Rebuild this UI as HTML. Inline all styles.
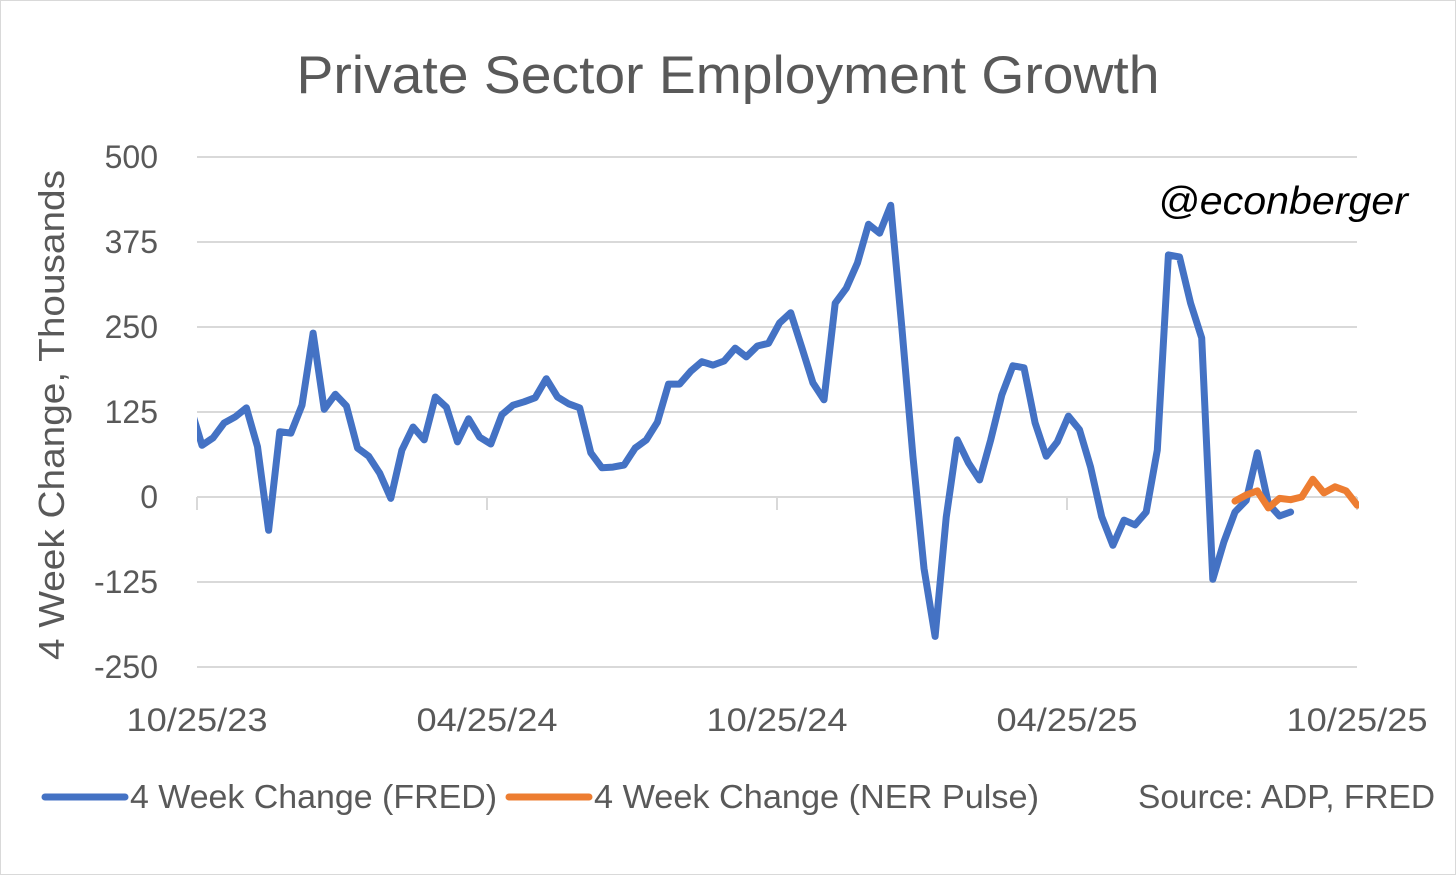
<!DOCTYPE html>
<html><head><meta charset="utf-8"><style>
html,body{margin:0;padding:0;background:#fff;}
svg{display:block;font-family:"Liberation Sans",sans-serif;}
</style></head><body>
<svg id="chart" width="1456" height="875" viewBox="0 0 1456 875" xmlns="http://www.w3.org/2000/svg">
<rect x="0.5" y="0.5" width="1455" height="874" fill="#fff" stroke="#d9d9d9"/>
<text x="728" y="93" text-anchor="middle" font-size="53" fill="#595959" textLength="863" lengthAdjust="spacingAndGlyphs">Private Sector Employment Growth</text>
<text x="1408" y="214" text-anchor="end" font-size="39" font-style="italic" fill="#000" textLength="250" lengthAdjust="spacingAndGlyphs">@econberger</text>
<text transform="translate(64,415) rotate(-90)" text-anchor="middle" font-size="36" fill="#595959" textLength="490" lengthAdjust="spacingAndGlyphs">4 Week Change, Thousands</text>
<g id="grid"></g><g id="yticks"></g><g id="xticks"></g>
<defs><clipPath id="plotclip"><rect x="197" y="100" width="1162" height="620"/></clipPath></defs>
<g id="series" clip-path="url(#plotclip)"></g>
<g>
<line x1="45" y1="797" x2="125" y2="797" stroke="#4472c4" stroke-width="7" stroke-linecap="round"/>
<text x="130" y="808" font-size="33" fill="#595959" textLength="367" lengthAdjust="spacingAndGlyphs">4 Week Change (FRED)</text>
<line x1="509" y1="797" x2="589" y2="797" stroke="#ed7d31" stroke-width="7" stroke-linecap="round"/>
<text x="594" y="808" font-size="33" fill="#595959" textLength="445" lengthAdjust="spacingAndGlyphs">4 Week Change (NER Pulse)</text>
<text x="1435" y="808" text-anchor="end" font-size="33" fill="#595959" textLength="297" lengthAdjust="spacingAndGlyphs">Source: ADP, FRED</text>
</g>
</svg>
<script>
const yTicks=[500,375,250,125,0,-125,-250];
const xTickLabels=["10/25/23","04/25/24","10/25/24","04/25/25","10/25/25"];
const blueStartWeek=-1;
const blueValues=[130,76,87,109,118,131,74,-49,96,94,135,241,129,151,134,72,60,35,-2,69,103,84,147,132,81,115,88,78,121,135,140,146,174,147,137,131,65,43,44,47,72,84,110,166,166,185,199,194,200,219,206,222,226,256,271,220,168,143,285,307,344,401,388,429,250,60,-105,-205,-30,84,50,25,84,150,193,190,109,60,81,119,99,44,-29,-71,-34,-41,-22,69,356,353,285,234,-121,-66,-22,-5,65,-10,-28,-22];
const orangeStartWeek=93;
const orangeValues=[-6,3,9,-16,-2,-4,0,26,6,15,9,-12];
const NS="http://www.w3.org/2000/svg";
const yPx=v=>497-(v/125)*85;
const xWeek=k=>202+k*11.108;
const xLabelPx=i=>197+i*290;
const grid=document.getElementById('grid'),yt=document.getElementById('yticks'),xt=document.getElementById('xticks'),ser=document.getElementById('series');
yTicks.forEach(v=>{
 const l=document.createElementNS(NS,'line');
 l.setAttribute('x1',197);l.setAttribute('x2',1357);l.setAttribute('y1',yPx(v));l.setAttribute('y2',yPx(v));
 l.setAttribute('stroke','#d9d9d9');l.setAttribute('stroke-width','2');
 
 
 grid.appendChild(l);
 const t=document.createElementNS(NS,'text');
 t.setAttribute('x',158);t.setAttribute('y',yPx(v)+11);t.setAttribute('text-anchor','end');
 t.setAttribute('font-size','32');t.setAttribute('fill','#595959');t.textContent=v;
 
 
 yt.appendChild(t);
});
xTickLabels.forEach((s,i)=>{
 const x=xLabelPx(i);
 const l=document.createElementNS(NS,'line');
 l.setAttribute('x1',x);l.setAttribute('x2',x);l.setAttribute('y1',497);l.setAttribute('y2',510);
 l.setAttribute('stroke','#d9d9d9');l.setAttribute('stroke-width','2');
 
 
 xt.appendChild(l);
 const t=document.createElementNS(NS,'text');
 t.setAttribute('x',x);t.setAttribute('y',731);t.setAttribute('text-anchor','middle');
 t.setAttribute('font-size','32');t.setAttribute('fill','#595959');t.textContent=s;
 t.setAttribute('textLength','141');t.setAttribute('lengthAdjust','spacingAndGlyphs');
 
 
 xt.appendChild(t);
});
function drawLine(start,vals,color,name){
 const p=document.createElementNS(NS,'polyline');
 p.setAttribute('points',vals.map((v,i)=>xWeek(start+i).toFixed(1)+','+yPx(v).toFixed(1)).join(' '));
 p.setAttribute('fill','none');p.setAttribute('stroke',color);p.setAttribute('stroke-width','7');
 p.setAttribute('stroke-linejoin','round');p.setAttribute('stroke-linecap','round');
 
 
 ser.appendChild(p);
}
drawLine(blueStartWeek,blueValues,'#4472c4','series-fred');
drawLine(orangeStartWeek,orangeValues,'#ed7d31','series-ner-pulse');
</script>
</body></html>
